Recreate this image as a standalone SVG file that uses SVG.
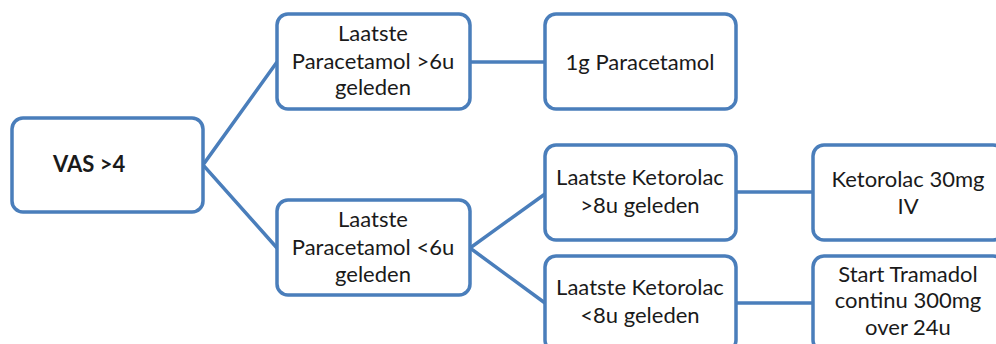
<svg xmlns="http://www.w3.org/2000/svg" width="996" height="344" viewBox="0 0 996 344">
<style>
.box{fill:#fff;stroke:#4a7ebb;stroke-width:3.5}
.ln{fill:none;stroke:#4a7ebb;stroke-width:3.5}
text{font-family:Lato,"Noto Sans",sans-serif;font-size:22px;fill:#1a1a1a;text-anchor:middle}
.b{font-weight:bold;text-anchor:start}
</style>
<rect width="996" height="344" fill="#fff"/>
<g id="connectors">
<polyline class="ln" points="277,62 203,165 277,248"/>
<line class="ln" x1="470" y1="62" x2="545" y2="62"/>
<polyline class="ln" points="545,194 470,248 545,303"/>
<line class="ln" x1="736" y1="192" x2="813" y2="192"/>
<line class="ln" x1="736" y1="303" x2="813" y2="303"/>
</g>
<g id="vas">
<rect class="box" x="12" y="118" width="191" height="94" rx="11"/>
<text class="b" x="53" y="172">VAS &gt;4</text>
</g>
<g id="para-gt6">
<rect class="box" x="277" y="14" width="193" height="95" rx="11"/>
<text x="373" y="41">Laatste</text>
<text x="373" y="69">Paracetamol &gt;6u</text>
<text x="373" y="95">geleden</text>
</g>
<g id="para-1g">
<rect class="box" x="545" y="14" width="191" height="95" rx="11"/>
<text x="640" y="70">1g Paracetamol</text>
</g>
<g id="para-lt6">
<rect class="box" x="277" y="200" width="193" height="95" rx="11"/>
<text x="373" y="227">Laatste</text>
<text x="373" y="255">Paracetamol &lt;6u</text>
<text x="373" y="282">geleden</text>
</g>
<g id="keto-gt8">
<rect class="box" x="545" y="145" width="191" height="95" rx="11"/>
<text x="640" y="185">Laatste Ketorolac</text>
<text x="640" y="213">&gt;8u geleden</text>
</g>
<g id="keto-lt8">
<rect class="box" x="545" y="256" width="191" height="95" rx="11"/>
<text x="640" y="295">Laatste Ketorolac</text>
<text x="640" y="323">&lt;8u geleden</text>
</g>
<g id="keto-30">
<rect class="box" x="813" y="145" width="191" height="95" rx="11"/>
<text x="908" y="187">Ketorolac 30mg</text>
<text x="908" y="214">IV</text>
</g>
<g id="tramadol">
<rect class="box" x="813" y="256" width="191" height="95" rx="11"/>
<text x="908" y="282">Start Tramadol</text>
<text x="908" y="308">continu 300mg</text>
<text x="908" y="335">over 24u</text>
</g>
</svg>
